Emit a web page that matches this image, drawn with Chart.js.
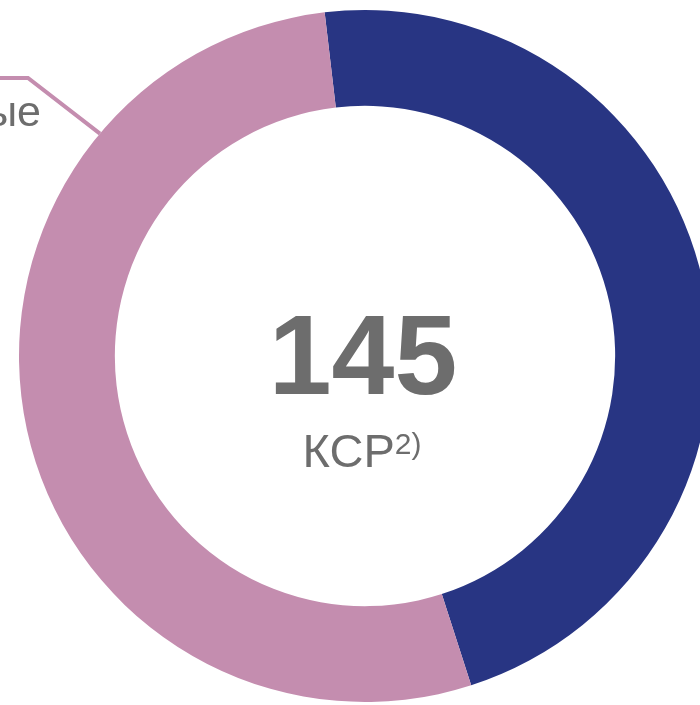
<!DOCTYPE html>
<html>
<head>
<meta charset="utf-8">
<script src="https://cdn.jsdelivr.net/npm/chart.js@4"></script>
<style>
  html, body { margin: 0; padding: 0; background: #fff; overflow: hidden; }
  #wrap { position: absolute; left: 0; top: 0; width: 730px; height: 705px; }
</style>
</head>
<body>
<div id="wrap"><canvas id="chart"></canvas></div>
<script>
// data
const categories = ['Федеральные', 'Региональные'];
const values = [68, 77];
const colors = ['#283583', '#c48daf'];
const totalLabel = '145';
const unitLabel = 'КСР';
const unitNote = '2)';

const FONT = '"Liberation Sans", Arial, sans-serif';
const GREY = '#6d6d6d';

// center text + leader label
const centerText = {
    id: 'centerText',
    afterDraw(chart) {
        const ctx = chart.ctx;
        const arc = chart.getDatasetMeta(0).data[0];
        const cx = arc.x, cy = arc.y;
        ctx.save();
        ctx.fillStyle = GREY;
        ctx.textBaseline = 'alphabetic';
        ctx.textAlign = 'center';
        ctx.font = 'bold 113px ' + FONT;
        ctx.fillText(totalLabel, cx - 2, cy + 38);

        ctx.textAlign = 'left';
        ctx.font = '47px ' + FONT;
        const w1 = ctx.measureText(unitLabel).width;
        ctx.font = '30px ' + FONT;
        const w2 = ctx.measureText(unitNote).width;
        const x0 = cx - (w1 + w2) / 2 - 3;
        ctx.font = '47px ' + FONT;
        ctx.fillText(unitLabel, x0, cy + 111);
        ctx.font = '30px ' + FONT;
        ctx.fillText(unitNote, x0 + w1, cy + 98);

        // leader line for the second segment
        const a = (310 - 90) * Math.PI / 180;
        const ex = cx + Math.cos(a) * arc.outerRadius;
        const ey = cy + Math.sin(a) * arc.outerRadius;
        ctx.strokeStyle = colors[1];
        ctx.lineWidth = 4;
        ctx.lineJoin = 'miter';
        ctx.beginPath();
        ctx.moveTo(-10, 78);
        ctx.lineTo(28, 78);
        ctx.lineTo(ex, ey);
        ctx.stroke();

        ctx.textAlign = 'right';
        ctx.font = '43px ' + FONT;
        ctx.fillStyle = GREY;
        ctx.fillText(categories[1], 41, 126);
        ctx.restore();
    }
};

new Chart(document.getElementById('chart'), {
    type: 'doughnut',
    data: {
        labels: categories,
        datasets: [{
            data: values,
            backgroundColor: colors,
            borderWidth: 0
        }]
    },
    options: {
        responsive: true,
        maintainAspectRatio: false,
        animation: false,
        rotation: -6.7,
        cutout: '72.3%',
        layout: { padding: { left: 19, right: 19, top: 10, bottom: 3 } },
        plugins: {
            legend: { display: false },
            tooltip: { enabled: false }
        }
    },
    plugins: [centerText]
});
</script>
</body>
</html>
